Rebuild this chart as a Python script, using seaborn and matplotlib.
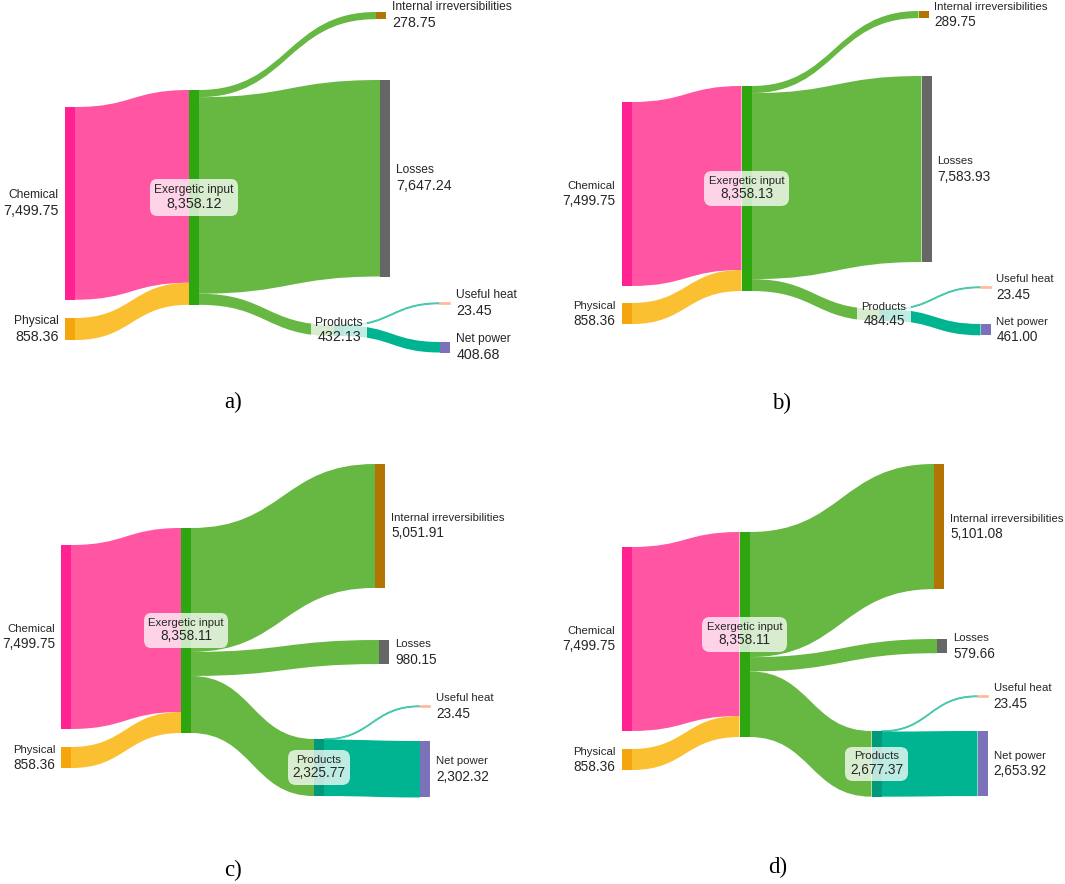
import matplotlib
matplotlib.use("Agg")
import matplotlib.pyplot as plt
import seaborn as sns
from matplotlib.path import Path
from matplotlib.patches import PathPatch, Rectangle
from matplotlib.offsetbox import TextArea, VPacker, AnnotationBbox

# ---------------- data ----------------
node_names = ["Chemical", "Physical", "Exergetic input", "Internal irreversibilities",
              "Losses", "Products", "Useful heat", "Net power"]
chemical = [7499.75, 7499.75, 7499.75, 7499.75]
physical = [858.36, 858.36, 858.36, 858.36]
exergetic_input = [8358.12, 8358.13, 8358.11, 8358.11]
internal_irr = [278.75, 289.75, 5051.91, 5101.08]
losses = [7647.24, 7583.93, 980.15, 579.66]
products = [432.13, 484.45, 2325.77, 2677.37]
useful_heat = [23.45, 23.45, 23.45, 23.45]
net_power = [408.68, 461.00, 2302.32, 2653.92]
panel_labels = ["a)", "b)", "c)", "d)"]

# links: (source index, target index)
link_pairs = [(0, 2), (1, 2), (2, 3), (2, 4), (2, 5), (5, 6), (5, 7)]

# ---------------- style / layout ----------------
sns.set_theme(style="white")
plt.rcParams['font.family'] = ['Liberation Sans', 'DejaVu Sans']

node_colors = ["#FF2290", "#F5A60C", "#2EA610", "#B27504", "#666666",
               "#00997A", "#FFB89A", "#7C72B9"]
link_colors = ["#FF55A3", "#FBB91C", "#67B843", "#67B843", "#67B843",
               "#00B492", "#00B492"]
link_alpha = [1.0, 0.9, 1.0, 1.0, 1.0, 1.0, 1.0]
text_color = "#262626"

W, H = 1065, 884
panels = [(0, 0, 532, 440), (532, 0, 533, 440), (0, 440, 532, 444), (532, 440, 533, 444)]
px_per_unit = [0.0257, 0.02453, 0.02453, 0.02453]
font_scale = [1.05, 1.0, 1.0, 1.0]
node_w = 10
# node x (px, from panel left) and node top (px, from panel top)
node_x = [
    [65, 65, 189, 376, 380, 334, 440, 440],
    [89.5, 89.5, 209.5, 386.5, 389.5, 347, 448.5, 448.5],
    [61, 61, 181, 375, 379, 314, 420, 420],
    [89.5, 89.5, 207.5, 402, 405, 339.5, 445.5, 445.5],
]
node_top = [
    [107, 318, 90, 12, 80, 325, 303, 342],
    [102, 303, 86, 11, 76, 309, 287, 324],
    [105, 307, 88, 24, 200, 299, 266, 301],
    [107, 309, 92, 24, 199, 291, 256, 291],
]
panel_label_pos = [(233, 402), (782, 403), (233, 870), (778, 867)]
name_fs, value_fs = 8.2, 9.8

fig = plt.figure(figsize=(W / 100, H / 100), dpi=100)

for p in range(4):
    x0, y0, w, h = panels[p]
    s = px_per_unit[p]
    fsc = font_scale[p]
    ax = fig.add_axes([x0 / W, 1 - (y0 + h) / H, w / W, h / H])
    ax.set_xlim(0, w)
    ax.set_ylim(h / s, 0)
    ax.axis("off")

    values = [chemical[p], physical[p], exergetic_input[p], internal_irr[p],
              losses[p], products[p], useful_heat[p], net_power[p]]
    link_vals = [chemical[p], physical[p], internal_irr[p], losses[p],
                 products[p], useful_heat[p], net_power[p]]
    nx = node_x[p]
    ny = [t / s for t in node_top[p]]

    out_off = [0.0] * 8
    in_off = [0.0] * 8
    for k, ((a, b), v) in enumerate(zip(link_pairs, link_vals)):
        xs = nx[a] + node_w
        xt = nx[b]
        xm = (xs + xt) / 2
        ys0 = ny[a] + out_off[a]
        ys1 = ys0 + v
        yt0 = ny[b] + in_off[b]
        yt1 = yt0 + v
        out_off[a] += v
        in_off[b] += v
        verts = [(xs, ys0), (xm, ys0), (xm, yt0), (xt, yt0), (xt, yt1),
                 (xm, yt1), (xm, ys1), (xs, ys1), (xs, ys0)]
        codes = [Path.MOVETO, Path.CURVE4, Path.CURVE4, Path.CURVE4, Path.LINETO,
                 Path.CURVE4, Path.CURVE4, Path.CURVE4, Path.CLOSEPOLY]
        thin = v * s < 2
        ax.add_patch(PathPatch(Path(verts, codes), facecolor=link_colors[k],
                               edgecolor="#4CC8AE" if thin else "none",
                               lw=1.0 if thin else 0, alpha=link_alpha[k], zorder=1))

    gap = 6 * fsc
    up, dn = 8 * fsc, -7.5 * fsc
    for i in range(8):
        thin = values[i] * s < 2
        ax.add_patch(Rectangle((nx[i], ny[i]), node_w, values[i],
                               facecolor=node_colors[i],
                               edgecolor=node_colors[i] if thin else "none",
                               lw=1.2 if thin else 0, zorder=2))
        cy = ny[i] + values[i] / 2
        val_txt = f"{values[i]:,.2f}"
        nfs, vfs = name_fs * fsc, value_fs * fsc
        if i in (0, 1):
            ax.annotate(node_names[i], (nx[i], cy), xytext=(-gap, up), textcoords="offset pixels",
                        ha="right", va="center", fontsize=nfs, color=text_color)
            ax.annotate(val_txt, (nx[i], cy), xytext=(-gap, dn), textcoords="offset pixels",
                        ha="right", va="center", fontsize=vfs, color=text_color)
        elif i in (2, 5):
            vp = VPacker(children=[TextArea(node_names[i], textprops=dict(fontsize=nfs, color=text_color)),
                                   TextArea(val_txt, textprops=dict(fontsize=vfs, color=text_color))],
                         align="center", pad=0, sep=1)
            ab = AnnotationBbox(vp, (nx[i] + node_w / 2, cy), xycoords="data", frameon=True,
                                box_alignment=(0.5, 0.5), pad=0.3,
                                bboxprops=dict(boxstyle="round,pad=0.3,rounding_size=0.5",
                                               facecolor=(1, 1, 1, 0.75), edgecolor="none"),
                                zorder=4)
            ax.add_artist(ab)
        else:
            ax.annotate(node_names[i], (nx[i] + node_w, cy), xytext=(gap, up), textcoords="offset pixels",
                        ha="left", va="center", fontsize=nfs, color=text_color)
            ax.annotate(val_txt, (nx[i] + node_w, cy), xytext=(gap, dn), textcoords="offset pixels",
                        ha="left", va="center", fontsize=vfs, color=text_color)

    lx, ly = panel_label_pos[p]
    fig.text(lx / W, 1 - ly / H, panel_labels[p], ha="center", va="center",
             fontsize=16.5, family="Liberation Serif", color="black")

fig.savefig("out.png", dpi=100, facecolor="white")
